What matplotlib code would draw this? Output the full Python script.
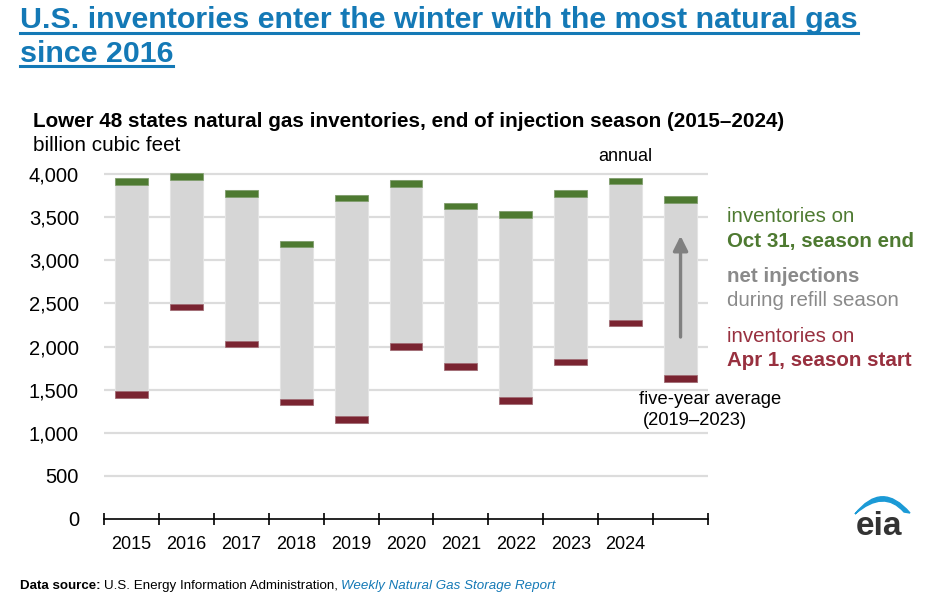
import matplotlib
matplotlib.use('Agg')
import matplotlib.pyplot as plt
import numpy as np
from matplotlib.patches import PathPatch
from matplotlib.path import Path
from matplotlib.lines import Line2D

# ---------------- data ----------------
categories = ['2015', '2016', '2017', '2018', '2019', '2020', '2021', '2022',
              '2023', '2024', 'five-year average']
x_labels = ['2015', '2016', '2017', '2018', '2019', '2020', '2021', '2022',
            '2023', '2024', '']
apr1 = [1479, 2496, 2066, 1394, 1193, 2039, 1807, 1413, 1857, 2310, 1668]
oct31 = [3950, 4008, 3810, 3229, 3760, 3930, 3667, 3570, 3810, 3957, 3744]
cap = 75  # thickness of the start / end markers (Bcf)
y_ticks = [0, 500, 1000, 1500, 2000, 2500, 3000, 3500, 4000]

# ---------------- style ----------------
BLUE = '#1479b6'
GREEN = '#4e7a31'
RED = '#7a2431'
RED_TXT = '#98303f'
GRAY_BAR = '#d6d6d6'
GRAY_TXT = '#8a8a8a'
SANS = ['Liberation Sans', 'DejaVu Sans']

W, H = 945, 606
fig = plt.figure(figsize=(W / 100, H / 100), dpi=100)
fig.patch.set_facecolor('white')

def fx(px):
    return px / W

def fy(py):
    return 1 - py / H

ax = fig.add_axes([fx(104), fy(519), fx(708) - fx(104), (519 - 165.4) / H])

x = np.arange(len(categories))
apr = np.array(apr1, dtype=float)
octv = np.array(oct31, dtype=float)
bw = 0.6

ax.bar(x, octv - (apr - cap), bottom=apr - cap, width=bw, color=GRAY_BAR,
       edgecolor='#e4e4e4', linewidth=0.8, zorder=2)
ax.bar(x, cap, bottom=octv - cap, width=bw, color=GREEN, edgecolor='#7e9c6a',
       linewidth=0.5, zorder=3)
ax.bar(x, cap, bottom=apr - cap, width=bw, color=RED, edgecolor='#a06a72',
       linewidth=0.5, zorder=3)

# arrow on five-year average bar
ax.annotate('', xy=(10, 3283), xytext=(10, 2110),
            arrowprops=dict(arrowstyle='-|>', color='#808080', lw=2.4,
                            mutation_scale=22, shrinkA=0, shrinkB=0),
            zorder=4)

ax.set_xlim(-0.5, 10.5)
ax.set_ylim(0, 4100)
for s in ['top', 'right', 'left']:
    ax.spines[s].set_visible(False)
ax.spines['bottom'].set_color('black')
ax.spines['bottom'].set_linewidth(1.2)
ax.spines['bottom'].set_zorder(5)

ax.set_yticks(y_ticks)
ax.set_yticklabels([f'{v:,}' for v in y_ticks], fontsize=14.5, family=SANS)
ax.tick_params(axis='y', length=0, pad=18)
for v in y_ticks[1:]:
    ax.axhline(v, color='#dcdcdc', lw=1.6, zorder=1)

ax.set_xticks(x)
ax.set_xticklabels(x_labels, fontsize=13, family=SANS)
ax.tick_params(axis='x', which='major', length=0, pad=12)
ax.set_xticks(np.arange(-0.5, 11, 1), minor=True)
ax.tick_params(axis='x', which='minor', direction='inout', length=9,
               width=1.2, color='black')

# annotations inside the plot
ax.text(9, 4100, 'annual', ha='center', va='bottom', fontsize=13,
        family=SANS, color='black')
fig.text(fx(639), fy(404), 'five-year average', ha='left',
         va='baseline', fontsize=13.2, family=SANS, color='black')
fig.text(fx(643), fy(425), '(2019–2023)', ha='left',
         va='baseline', fontsize=13.2, family=SANS, color='black')

# legend texts
lx = fx(727)
LFS = 14.8
fig.text(lx, fy(217), 'inventories on', fontsize=LFS, family=SANS,
         color=GREEN, va='center')
fig.text(lx, fy(241), 'Oct 31, season end', fontsize=LFS, family=SANS,
         color=GREEN, va='center', weight='bold')
fig.text(lx, fy(277), 'net injections', fontsize=LFS, family=SANS,
         color=GRAY_TXT, va='center', weight='bold')
fig.text(lx, fy(300), 'during refill season', fontsize=LFS, family=SANS,
         color=GRAY_TXT, va='center')
fig.text(lx, fy(336), 'inventories on', fontsize=LFS, family=SANS,
         color=RED_TXT, va='center')
fig.text(lx, fy(360), 'Apr 1, season start', fontsize=LFS, family=SANS,
         color=RED_TXT, va='center', weight='bold')

# subtitle
fig.text(fx(33), fy(127), 'Lower 48 states natural gas inventories, end of injection season (2015–2024)',
         fontsize=14.9, family=SANS, weight='bold', color='black', va='baseline')
fig.text(fx(33), fy(151), 'billion cubic feet', fontsize=14.9, family=SANS,
         color='black', va='baseline')

# title with underline (size fitted so line 1 spans the reference width)
t1 = fig.text(fx(20), fy(28), 'U.S. inventories enter the winter with the most natural gas',
              fontsize=25, family=SANS, weight='bold', color=BLUE, va='baseline')
t2 = fig.text(fx(20), fy(62), 'since 2016', fontsize=25, family=SANS,
              weight='bold', color=BLUE, va='baseline')
fig.canvas.draw()
r = fig.canvas.get_renderer()
w1 = t1.get_window_extent(r).width
fs = 25 * 840.0 / w1
t1.set_fontsize(fs)
t2.set_fontsize(fs)

# source line
s1 = fig.text(fx(20), fy(589), 'Data source:', fontsize=9.6, family=SANS,
              weight='bold', color='black', va='baseline')
fig.canvas.draw()
for t, ypx in [(t1, 32.5), (t2, 66)]:
    bb = t.get_window_extent(r)
    fig.add_artist(Line2D([bb.x0 / W, bb.x1 / W], [fy(ypx), fy(ypx)],
                          color=BLUE, lw=2.2, transform=fig.transFigure))
bb = s1.get_window_extent(r)
s2 = fig.text(bb.x1 / W + 3 / W, fy(589), 'U.S. Energy Information Administration,',
              fontsize=9.6, family=SANS, color='black', va='baseline')
fig.canvas.draw()
bb = s2.get_window_extent(r)
fig.text(bb.x1 / W + 3 / W, fy(589), 'Weekly Natural Gas Storage Report',
         fontsize=9.6, family=SANS, color=BLUE, style='italic', va='baseline')

# eia logo
fig.text(fx(879), fy(535), 'eia', fontsize=24, family=SANS, weight='bold',
         color='#333333', ha='center', va='baseline')
verts = [(fx(855), fy(514)), (fx(882), fy(480)), (fx(910), fy(513)),
         (fx(904), fy(512)), (fx(884), fy(489)), (fx(855), fy(514))]
codes = [Path.MOVETO, Path.CURVE3, Path.CURVE3, Path.LINETO, Path.CURVE3, Path.CURVE3]
fig.add_artist(PathPatch(Path(verts, codes), facecolor='#1b9ad6',
                         edgecolor='#1b9ad6', lw=1, transform=fig.transFigure))

fig.savefig('out.png', dpi=100, facecolor='white')
